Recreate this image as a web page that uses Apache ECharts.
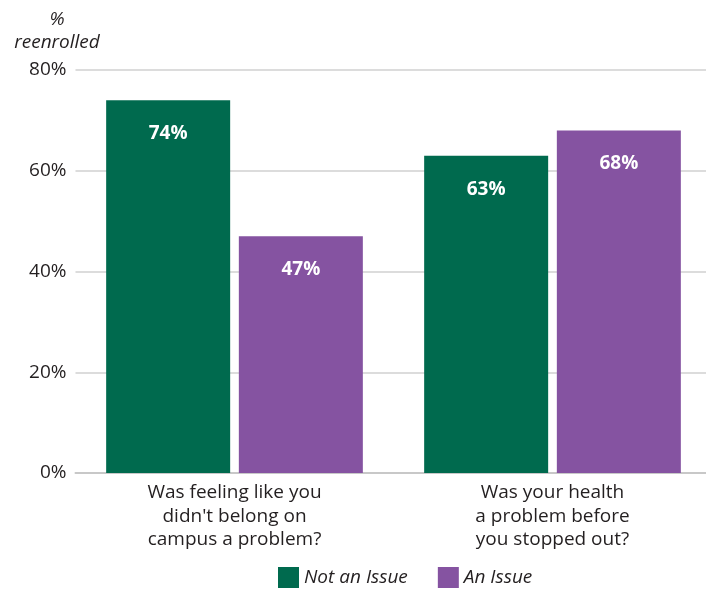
<!DOCTYPE html>
<html>
<head>
<meta charset="utf-8">
<script src="https://cdn.jsdelivr.net/npm/echarts@6/dist/echarts.min.js"></script>
<style>html,body{margin:0;padding:0;background:#fff}#c{width:706px;height:590px}</style>
</head>
<body>
<div id="c"></div>
<script>
const categories = ["Was feeling like you\ndidn't belong on\ncampus a problem?", "Was your health\na problem before\nyou stopped out?"];
const seriesNames = ["Not an Issue", "An Issue"];
const notAnIssue = [74, 63];
const anIssue = [47, 68];
const yTicks = [0, 20, 40, 60, 80];
const colors = ["#006a4e", "#8553a1"];
const FONT = "'Open Sans', 'Noto Sans', sans-serif";

const chart = echarts.init(document.getElementById('c'), null, {renderer: 'canvas'});
const labelCfg = {
  show: true, position: 'insideTop', distance: 24,
  formatter: p => p.value + '%', color: '#fff', fontWeight: 'bold',
  fontSize: 19, fontFamily: FONT
};
chart.setOption({
  animation: false,
  textStyle: {fontFamily: FONT},
  title: {
    text: '%\nreenrolled', left: 52, top: 3, textAlign: 'center',
    textStyle: {fontStyle: 'italic', fontWeight: 'normal', fontSize: 19, color: '#231f20', lineHeight: 23, fontFamily: FONT}
  },
  legend: {
    bottom: -3, left: 273, itemWidth: 21, itemHeight: 21, itemGap: 30,
    icon: 'rect', data: seriesNames,
    textStyle: {fontStyle: 'italic', fontSize: 19, color: '#231f20', fontFamily: FONT}
  },
  grid: {left: 75.5, width: 636, top: 70, bottom: 117, containLabel: false, outerBoundsMode: 'none'},
  xAxis: {
    type: 'category', data: categories,
    axisTick: {show: false},
    axisLine: {show: true, lineStyle: {color: '#c8c8c8', width: 2}},
    axisLabel: {fontSize: 19, color: '#231f20', lineHeight: 23.5, margin: 8, fontFamily: FONT, interval: 0}
  },
  yAxis: {
    type: 'value', min: yTicks[0], max: yTicks[yTicks.length - 1], interval: 20,
    axisLine: {show: false}, axisTick: {show: false},
    splitLine: {lineStyle: {color: '#d0d0d0', width: 1.5}},
    axisLabel: {formatter: v => v + '%', fontSize: 19, color: '#231f20', margin: 9, fontFamily: FONT}
  },
  series: [
    {name: seriesNames[0], type: 'bar', data: notAnIssue, barWidth: 124, barGap: '7%',
     itemStyle: {color: colors[0]}, label: labelCfg},
    {name: seriesNames[1], type: 'bar', data: anIssue, barWidth: 124,
     itemStyle: {color: colors[1]}, label: labelCfg}
  ]
});
</script>
</body>
</html>
